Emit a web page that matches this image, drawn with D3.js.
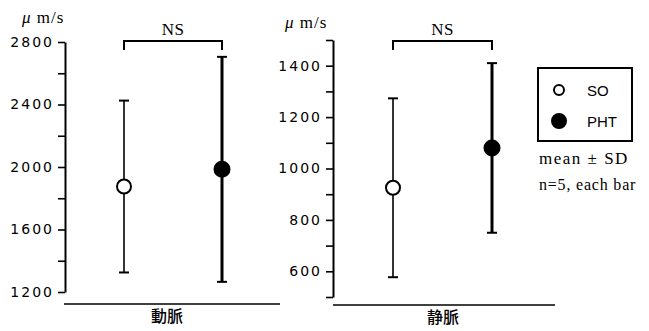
<!DOCTYPE html>
<html>
<head>
<meta charset="utf-8">
<script src="https://cdn.jsdelivr.net/npm/d3@7"></script>
<style>
  body { margin: 0; background: #fff; }
  svg { display: block; }
</style>
</head>
<body>
<div id="chart"></div>
<script>
// data
var groups = ["動脈", "静脈"];
var series = ["SO", "PHT"];
var arteryMean = [1875, 1985];
var arterySD = [550, 720];
var veinMean = [925, 1080];
var veinSD = [348, 330];
var arteryTicks = [1200, 1600, 2000, 2400, 2800];
var veinTicks = [600, 800, 1000, 1200, 1400];
var unitLabel = " m/s";
var sigLabel = "NS";

var svg = d3.select("#chart").append("svg")
    .attr("width", 649)
    .attr("height", 331);

function drawPanel(opts) {
    var y = d3.scaleLinear().domain(opts.domain).range([opts.bottom, opts.top]);
    var x = d3.scalePoint().domain(series).range(opts.xRange);
    var g = svg.append("g");

    // y axis, minor ticks every half step
    var step = opts.ticks[1] - opts.ticks[0];
    var minor = d3.range(opts.domain[0], opts.domain[1] + 1, step / 2);
    var axis = g.append("g")
        .attr("transform", "translate(" + opts.axisX + ",0)")
        .call(d3.axisLeft(y).tickValues(minor).tickSize(7).tickSizeOuter(0)
            .tickFormat(function (d) { return opts.ticks.indexOf(d) >= 0 ? d : ""; }));
    axis.select(".domain").attr("stroke-width", 2);
    axis.selectAll(".tick line").attr("stroke-width", 1.6);
    axis.selectAll(".tick text")
        .attr("x", -11)
        .attr("font-family", "DejaVu Sans, sans-serif")
        .attr("font-size", 14)
        .attr("letter-spacing", "2px")
        .attr("fill", "#000");

    // unit
    var unit = g.append("text")
        .attr("x", opts.unitX)
        .attr("y", opts.unitY)
        .attr("font-family", "Liberation Serif, serif")
        .attr("font-size", 17)
        .attr("letter-spacing", "1px");
    unit.append("tspan").attr("font-style", "italic").text("\u03bc");
    unit.append("tspan").text(unitLabel);

    // baseline
    g.append("line")
        .attr("x1", opts.baseX[0]).attr("x2", opts.baseX[1])
        .attr("y1", opts.baseY).attr("y2", opts.baseY)
        .attr("stroke", "#000")
        .attr("stroke-width", 1.6);

    g.append("text")
        .attr("x", opts.labelX)
        .attr("y", opts.baseY + 18)
        .attr("text-anchor", "middle")
        .attr("font-family", "Noto Sans CJK JP, sans-serif")
        .attr("font-size", 16)
        .attr("font-weight", 500)
        .text(opts.name);

    // error bars
    var bars = g.selectAll(".err")
        .data(series)
        .enter().append("g")
        .attr("class", "err");
    var w = [1.6, 3];
    bars.append("line")
        .attr("x1", function (d) { return x(d); })
        .attr("x2", function (d) { return x(d); })
        .attr("y1", function (d, i) { return y(opts.mean[i] + opts.sd[i]); })
        .attr("y2", function (d, i) { return y(opts.mean[i] - opts.sd[i]); })
        .attr("stroke", "#000")
        .attr("stroke-width", function (d, i) { return w[i]; });
    [1, -1].forEach(function (s) {
        bars.append("line")
            .attr("x1", function (d) { return x(d) - 5; })
            .attr("x2", function (d) { return x(d) + 5; })
            .attr("y1", function (d, i) { return y(opts.mean[i] + s * opts.sd[i]); })
            .attr("y2", function (d, i) { return y(opts.mean[i] + s * opts.sd[i]); })
            .attr("stroke", "#000")
            .attr("stroke-width", 2);
    });
    bars.append("circle")
        .attr("cx", function (d) { return x(d); })
        .attr("cy", function (d, i) { return y(opts.mean[i]); })
        .attr("r", function (d, i) { return i == 0 ? 7 : 7.5; })
        .attr("fill", function (d, i) { return i == 0 ? "#fff" : "#000"; })
        .attr("stroke", "#000")
        .attr("stroke-width", 2);

    // NS bracket
    var by = opts.bracketY;
    g.append("path")
        .attr("d", "M" + x("SO") + "," + (by + 9) + "V" + by + "H" + x("PHT") + "V" + (by + 9))
        .attr("fill", "none")
        .attr("stroke", "#000")
        .attr("stroke-width", 2);
    g.append("text")
        .attr("x", (x("SO") + x("PHT")) / 2)
        .attr("y", by - 6)
        .attr("text-anchor", "middle")
        .attr("font-family", "Liberation Serif, serif")
        .attr("font-size", 17)
        .attr("letter-spacing", "0.5px")
        .text(sigLabel);
}

drawPanel({
    name: groups[0], mean: arteryMean, sd: arterySD, ticks: arteryTicks,
    domain: [1200, 2800], top: 42, bottom: 292, axisX: 65,
    xRange: [124, 222], unitX: 22, unitY: 23, baseX: [64, 280], baseY: 304,
    labelX: 167, bracketY: 41
});
drawPanel({
    name: groups[1], mean: veinMean, sd: veinSD, ticks: veinTicks,
    domain: [500, 1500], top: 40, bottom: 297, axisX: 333,
    xRange: [393, 492], unitX: 285, unitY: 28, baseX: [333, 555], baseY: 305,
    labelX: 443, bracketY: 41
});

// legend
var legend = svg.append("g");
legend.append("rect")
    .attr("x", 538).attr("y", 68)
    .attr("width", 94).attr("height", 73)
    .attr("fill", "none")
    .attr("stroke", "#000")
    .attr("stroke-width", 2);
legend.selectAll(".item")
    .data(series)
    .enter().append("g")
    .attr("class", "item")
    .attr("transform", function (d, i) { return "translate(0," + (90 + i * 31) + ")"; })
    .each(function (d, i) {
        var item = d3.select(this);
        item.append("circle")
            .attr("cx", 559).attr("cy", 0)
            .attr("r", i == 0 ? 5 : 7)
            .attr("fill", i == 0 ? "#fff" : "#000")
            .attr("stroke", "#000")
            .attr("stroke-width", 2);
        item.append("text")
            .attr("x", 587).attr("y", 6)
            .attr("font-family", "Liberation Sans, Arial, sans-serif")
            .attr("font-size", 15)
            .text(d);
    });

legend.append("text")
    .attr("x", 539).attr("y", 164)
    .attr("font-family", "Liberation Serif, serif")
    .attr("font-size", 17)
    .attr("letter-spacing", "1.5px")
    .text("mean \u00b1 SD");
legend.append("text")
    .attr("x", 539).attr("y", 190)
    .attr("font-family", "Liberation Serif, serif")
    .attr("font-size", 16)
    .attr("letter-spacing", "0.8px")
    .text("n=5, each bar");
</script>
</body>
</html>
